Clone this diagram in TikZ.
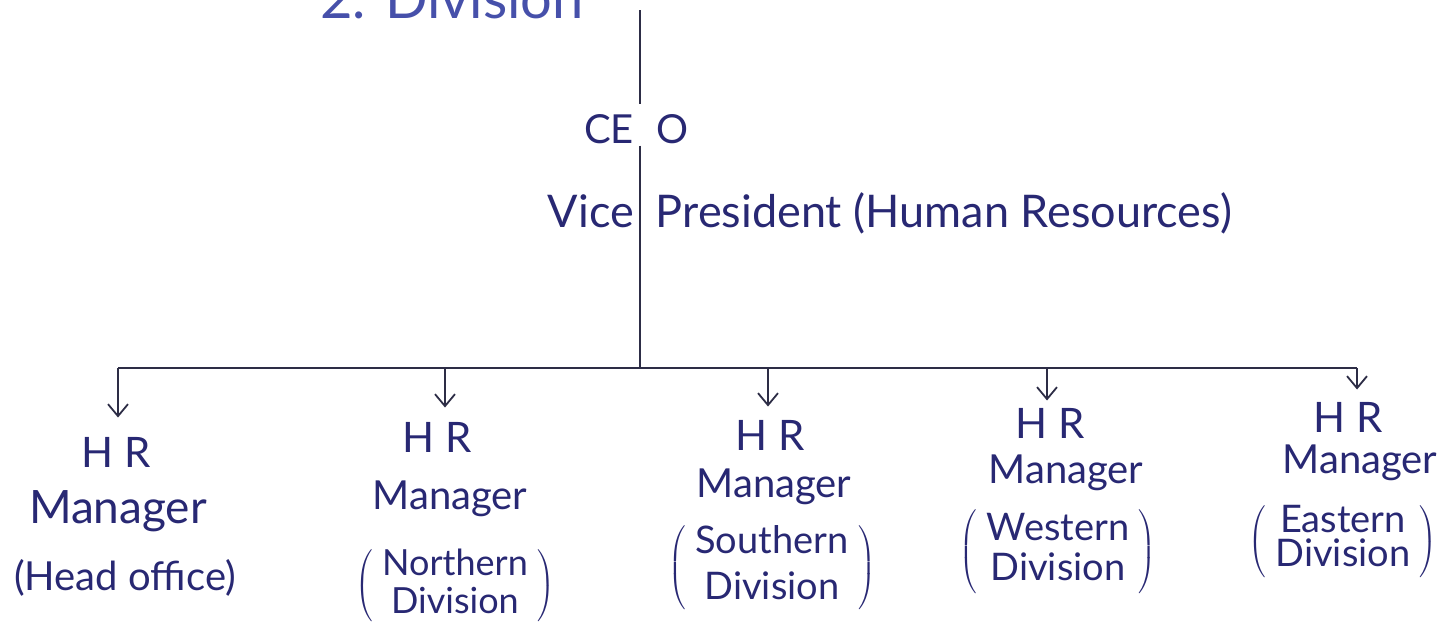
\documentclass[tikz,border=0pt]{standalone}
\usepackage{fontspec}
\setmainfont{Lato}
\usetikzlibrary{arrows.meta}
\definecolor{ink}{RGB}{40,40,115}
\definecolor{blueink}{RGB}{70,80,170}
\definecolor{pen}{RGB}{45,45,70}
\newcommand\parblock[3]{$\left(\;\vcenter{\hbox{\begin{tabular}{@{}c@{}}#2\\[#1]#3\end{tabular}}}\;\right)$}
\begin{document}
\begin{tikzpicture}[x=0.5pt,y=-0.5pt,
  txt/.style={inner sep=1pt, text=ink},
  hrtxt/.style={txt, anchor=base, font=\fontsize{21}{23}\selectfont},
  mgrtxt/.style={txt, anchor=base, font=\fontsize{20}{22}\selectfont},
  divtxt/.style={txt, font=\fontsize{19}{20}\selectfont},
  conn/.style={draw=pen, line width=0.9pt},
  drop/.style={conn, -{Straight Barb[length=6pt,width=10pt,line width=0.9pt]}}]
\useasboundingbox (0,0) rectangle (1443,623);

% cut-off heading at the top
\node[txt, text=blueink, font=\fontsize{28}{30}\selectfont, anchor=base west] (sec) at (318,18) {2. Division};

% top of the chart
\coordinate (top) at (640,10);
\node[txt, anchor=base, font=\fontsize{20}{22}\selectfont] (ceo) at (640,143) {\llap{CE\hspace{3pt}}\rlap{\hspace{8pt}O}};
\node[txt, anchor=base, font=\fontsize{22.5}{25}\selectfont] (vp) at (640,227) {\llap{Vice\hspace{3pt}}\rlap{\hspace{8pt}President (Human Resources)}};
\coordinate (junc) at (640,368);

\draw[conn, shorten >=4pt] (top) -- (ceo.north);
\draw[conn] (ceo.south) -- (junc);

% HR managers
\node[hrtxt] (hr1) at (116,467) {H R};
\node[mgrtxt, font=\fontsize{23}{25}\selectfont] (mg1) at (118,523) {Manager};
\node[txt, anchor=base, font=\fontsize{20}{22}\selectfont] (dv1) at (125,590) {(Head office)};

\node[hrtxt] (hr2) at (437,452) {H R};
\node[mgrtxt] (mg2) at (450,509) {Manager};
\node[divtxt, font=\fontsize{18}{20}\selectfont] (dv2) at (455,586) {\parblock{-1pt}{Northern}{Division}};

\node[hrtxt] (hr3) at (770,450) {H R};
\node[mgrtxt] (mg3) at (774,497) {Manager};
\node[divtxt, font=\fontsize{19}{21}\selectfont] (dv3) at (772,568) {\parblock{2pt}{Southern}{Division}};

\node[hrtxt] (hr4) at (1050,438) {H R};
\node[mgrtxt] (mg4) at (1066,483) {Manager};
\node[divtxt] (dv4) at (1058,552) {\parblock{0pt}{Western}{Division}};

\node[hrtxt] (hr5) at (1348,432) {H R};
\node[mgrtxt] (mg5) at (1360,473) {Manager};
\node[divtxt, font=\fontsize{19}{19}\selectfont] (dv5) at (1343,542) {\parblock{-2.5pt}{Eastern}{Division}};

% distribution bar
\coordinate (b1) at (118,368);
\coordinate (b2) at (445,368);
\coordinate (b3) at (768,368);
\coordinate (b4) at (1047,368);
\coordinate (b5) at (1357,368);
\draw[conn] (b1) -- (b5);

\draw[drop, shorten >=8.5pt] (b1) -- (b1 |- hr1.north);
\draw[drop, shorten >=6pt] (b2) -- (b2 |- hr2.north);
\draw[drop, shorten >=5.5pt] (b3) -- (b3 |- hr3.north);
\draw[drop, shorten >=2.5pt] (b4) -- (b4 |- hr4.north);
\draw[drop, shorten >=5pt] (b5) -- (b5 |- hr5.north);
\end{tikzpicture}
\end{document}
